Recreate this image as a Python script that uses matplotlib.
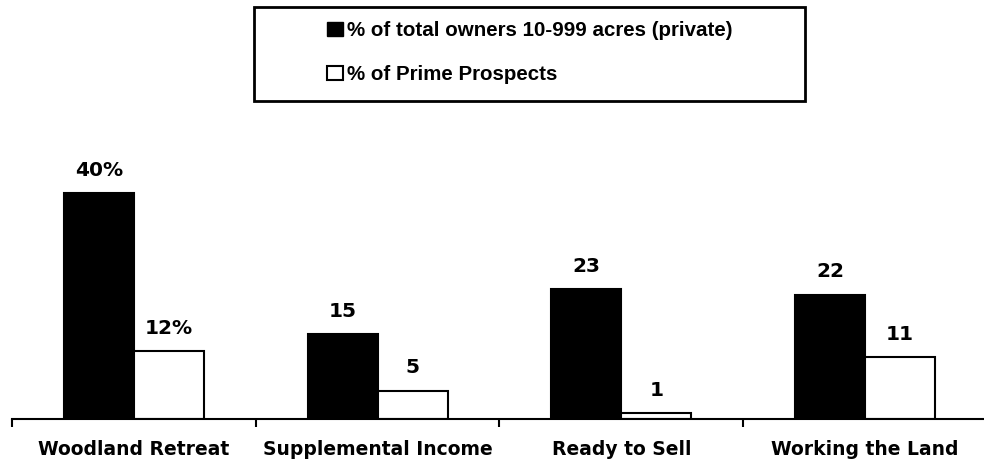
import matplotlib
matplotlib.use("Agg")
import matplotlib.pyplot as plt
from matplotlib.patches import Rectangle, Patch

categories = ["Woodland Retreat", "Supplemental Income", "Ready to Sell", "Working the Land"]
owners = [40, 15, 23, 22]
prospects = [12, 5, 1, 11]
owner_labels = ["40%", "15", "23", "22"]
prospect_labels = ["12%", "5", "1", "11"]
legend_labels = ["% of total owners 10-999 acres (private)", "% of Prime Prospects"]

W, H = 984, 467
fig = plt.figure(figsize=(W / 100, H / 100), dpi=100)
ax = fig.add_axes([12 / W, 48 / H, 975 / W, 254 / H])

x = range(len(categories))
bw = 0.287
b1 = ax.bar([i - bw / 2 for i in x], owners, bw, color="black", edgecolor="black", lw=1.5)
b2 = ax.bar([i + bw / 2 for i in x], prospects, bw, color="white", edgecolor="black", lw=1.5)

for bars, labs in [(b1, owner_labels), (b2, prospect_labels)]:
    for r, lab in zip(bars, labs):
        ax.annotate(lab, (r.get_x() + r.get_width() / 2, r.get_height()),
                    xytext=(0, 12.5), textcoords="offset points", ha="center", va="baseline",
                    fontsize=14.5, fontweight="bold", family="DejaVu Sans")

ax.set_xlim(-0.5, 3.5)
ax.set_ylim(0, 45)
for s in ["top", "left", "right"]:
    ax.spines[s].set_visible(False)
ax.spines["bottom"].set_linewidth(1.5)
ax.set_yticks([])
ax.set_xticks(list(x))
ax.set_xticklabels(categories, fontsize=13.5, fontweight="bold", family="DejaVu Sans")
ax.tick_params(axis="x", which="major", length=0, pad=15)
ax.set_xticks([-0.5, 0.5, 1.5, 2.5, 3.5], minor=True)
ax.tick_params(axis="x", which="minor", length=6, width=1.5, direction="out")

# legend box is wider than its entries, so draw the frame separately
fig.patches.append(Rectangle((254 / W, 1 - 101 / H), 551 / W, 94 / H, transform=fig.transFigure,
                             fill=False, lw=2, edgecolor="black"))
handles = [Patch(facecolor="black", edgecolor="black"), Patch(facecolor="white", edgecolor="black", lw=1.5)]
fig.legend(handles, legend_labels, loc="upper left", bbox_to_anchor=(317 / W, 1 - 11 / H),
           frameon=False, borderpad=0, labelspacing=1.2, handlelength=0.75, handleheight=0.7,
           handletextpad=0.2, prop={"family": "Liberation Sans", "weight": "bold", "size": 14.8})

fig.savefig("out.png", dpi=100)
